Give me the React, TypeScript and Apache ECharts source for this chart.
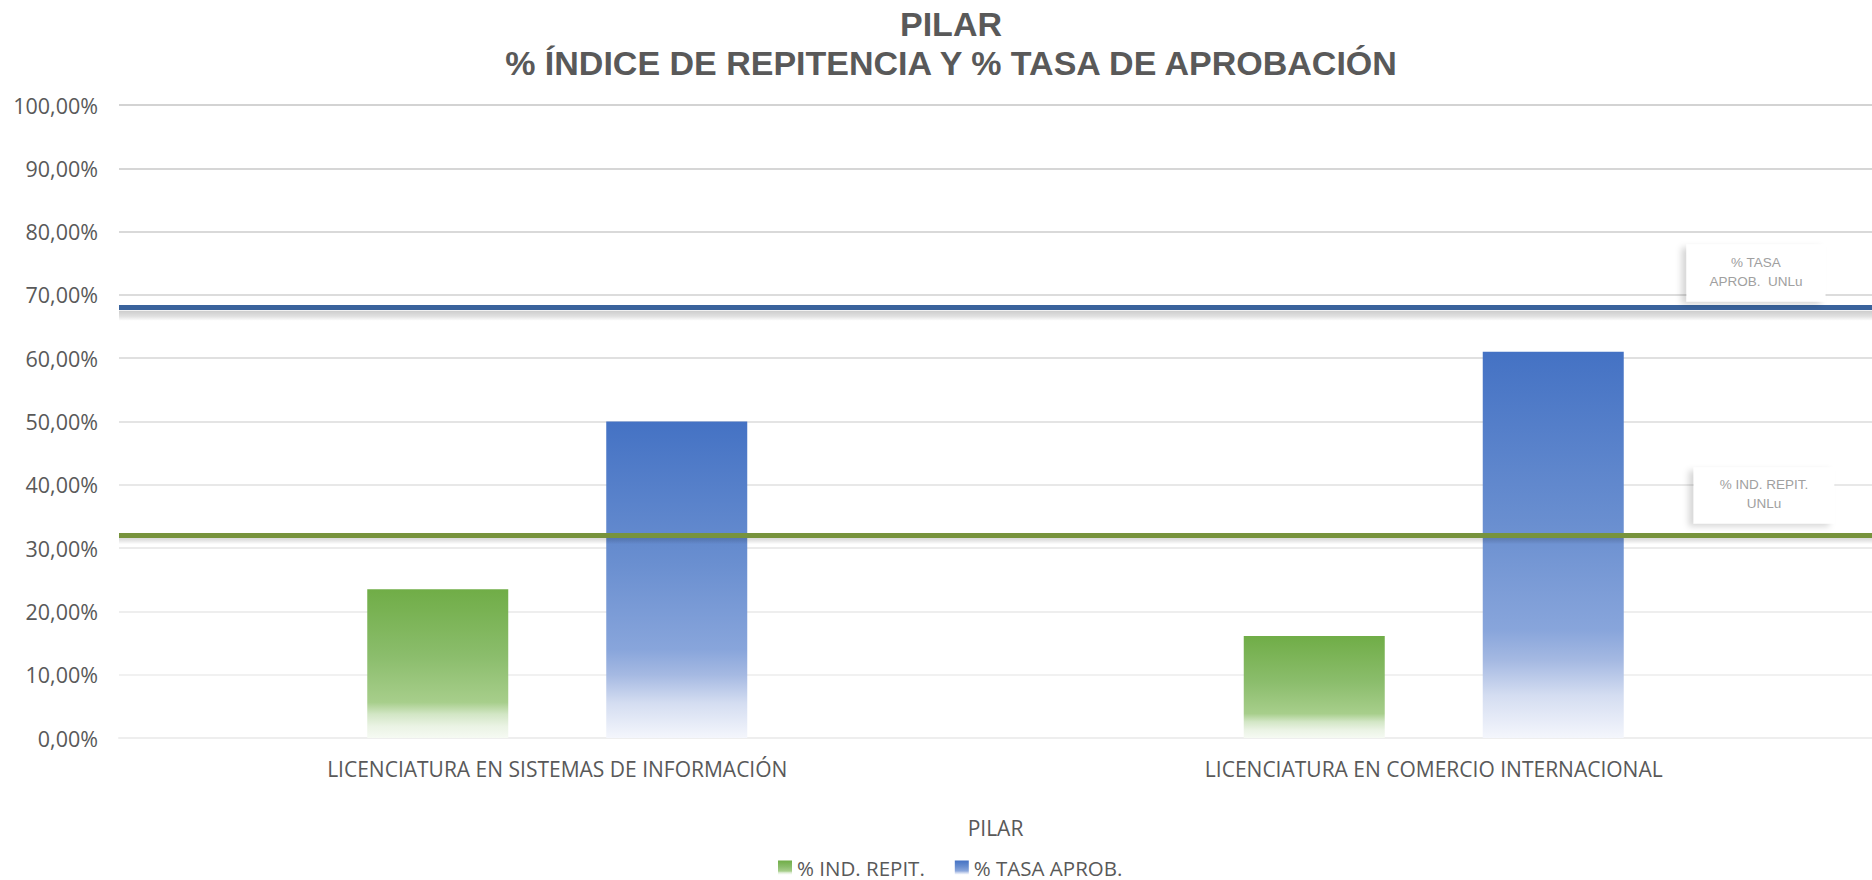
import React, { useEffect, useRef } from "react";
import * as echarts from "echarts";

const categories = [
  "LICENCIATURA EN SISTEMAS DE INFORMACIÓN",
  "LICENCIATURA EN COMERCIO INTERNACIONAL",
];
const repitValues = [0.235, 0.161];
const tasaValues = [0.5, 0.61];
const refTasaUNLu = 0.675;
const refRepitUNLu = 0.322;
const yTicks = [0, 0.1, 0.2, 0.3, 0.4, 0.5, 0.6, 0.7, 0.8, 0.9, 1];
const seriesNames = ["% IND. REPIT.", "% TASA APROB."];
const refLabels = ["% IND. REPIT.\nUNLu", "% TASA\nAPROB.  UNLu"];
const titleText = "PILAR\n% ÍNDICE DE REPITENCIA Y % TASA DE APROBACIÓN";
const axisName = "PILAR";

const FONT = "'Open Sans', 'Noto Sans', sans-serif";
const ARIAL = "'Liberation Sans', Arial, sans-serif";
const GRAY = "#595959";
const SHADOW_DEPTH = 0.016;

const greenGrad = new echarts.graphic.LinearGradient(0, 0, 0, 1, [
  { offset: 0, color: "#70AD47" },
  { offset: 0.45, color: "#8BBD6C" },
  { offset: 0.76, color: "#A7CE8B" },
  { offset: 0.84, color: "#D2E6C5" },
  { offset: 0.92, color: "#EAF3E4" },
  { offset: 1, color: "#F6FAF3" },
]);
const blueGrad = new echarts.graphic.LinearGradient(0, 0, 0, 1, [
  { offset: 0, color: "#4472C4" },
  { offset: 0.45, color: "#6A8FD0" },
  { offset: 0.72, color: "#88A5DB" },
  { offset: 0.8, color: "#A5B9E2" },
  { offset: 0.89, color: "#D4DDF1" },
  { offset: 1, color: "#F4F6FC" },
]);
const shadowGrad = () =>
  new echarts.graphic.LinearGradient(0, 0, 0, 1, [
    { offset: 0, color: "rgba(0,0,0,0.2)" },
    { offset: 0.55, color: "rgba(0,0,0,0.12)" },
    { offset: 1, color: "rgba(0,0,0,0)" },
  ]);

export default function App() {
  const ref = useRef<HTMLDivElement>(null);
  useEffect(() => {
    if (!ref.current) return;
    const chart = echarts.init(ref.current, null, { renderer: "svg" });
    const labelBox = {
      show: true,
      position: "insideEndTop",
      color: "#A0A0A0",
      fontFamily: ARIAL,
      fontSize: 13.5,
      align: "center",
      backgroundColor: "#ffffff",
      shadowColor: "rgba(0,0,0,0.16)",
      shadowBlur: 6,
      shadowOffsetX: -5,
      shadowOffsetY: 3,
    };
    const mkShadowArea = (v: number) => ({
      silent: true,
      z: 3,
      itemStyle: { color: shadowGrad() },
      data: [[{ yAxis: v }, { yAxis: v - SHADOW_DEPTH }]],
    });
    chart.setOption({
      animation: false,
      backgroundColor: "#ffffff",
      title: {
        text: titleText,
        left: 946,
        top: 0,
        textAlign: "center",
        textStyle: {
          fontFamily: ARIAL,
          fontWeight: "bold",
          fontSize: 34,
          lineHeight: 38.5,
          color: GRAY,
        },
      },
      grid: { left: 119, right: 0, top: 105, bottom: 142, containLabel: false },
      legend: {
        left: 773,
        top: 852,
        itemWidth: 14,
        itemHeight: 14,
        itemGap: 30,
        icon: "rect",
        textStyle: { fontFamily: FONT, fontSize: 20.5, lineHeight: 20, color: GRAY },
        data: seriesNames,
      },
      xAxis: {
        type: "category",
        data: categories,
        name: axisName,
        nameLocation: "middle",
        nameGap: 79,
        nameTextStyle: { fontFamily: FONT, fontSize: 21, color: GRAY },
        axisLine: { show: true, lineStyle: { color: "#EEEEEE", width: 2 } },
        axisTick: { show: false },
        axisLabel: { fontFamily: FONT, fontSize: 21, color: GRAY, margin: 20 },
      },
      yAxis: {
        type: "value",
        min: yTicks[0],
        max: yTicks[yTicks.length - 1],
        interval: 0.1,
        axisLine: { show: false },
        axisTick: { show: false },
        axisLabel: {
          fontFamily: FONT,
          fontSize: 21.5,
          color: GRAY,
          margin: 21,
          formatter: (v: number) => (v * 100).toFixed(2).replace(".", ",") + "%",
        },
        splitLine: {
          show: true,
          lineStyle: {
            width: 1.5,
            color: [
              "#EEEEEE",
              "#ECECEC",
              "#E9E9E9",
              "#E5E5E5",
              "#E0E0E0",
              "#DBDBDB",
              "#D6D6D6",
              "#D1D1D1",
              "#CDCDCD",
              "#C9C9C9",
              "#C5C5C5",
            ],
          },
        },
      },
      series: [
        {
          name: seriesNames[0],
          type: "bar",
          data: repitValues,
          barWidth: 141,
          barGap: "69.5%",
          itemStyle: { color: greenGrad },
          emphasis: { disabled: true },
          markArea: mkShadowArea(refRepitUNLu),
          markLine: {
            silent: true,
            symbol: "none",
            z: 6,
            lineStyle: { color: "#77933C", width: 5, type: "solid" },
            label: {
              ...labelBox,
              formatter: refLabels[0],
              lineHeight: 19,
              padding: [8, 26, 10, 26],
              distance: [108, 12],
            },
            data: [{ yAxis: refRepitUNLu }],
          },
        },
        {
          name: seriesNames[1],
          type: "bar",
          data: tasaValues,
          barWidth: 141,
          barGap: "69.5%",
          itemStyle: { color: blueGrad },
          emphasis: { disabled: true },
          markArea: mkShadowArea(refTasaUNLu),
          markLine: {
            silent: true,
            symbol: "none",
            z: 6,
            lineStyle: { color: "#3A639C", width: 5, type: "solid" },
            label: {
              ...labelBox,
              formatter: refLabels[1],
              lineHeight: 18.5,
              padding: [9, 23, 11, 23],
              distance: [116, 6],
            },
            data: [{ yAxis: refTasaUNLu }],
          },
        },
      ],
    });
    return () => chart.dispose();
  }, []);
  return (
    <div
      ref={ref}
      style={{ position: "fixed", left: 0, top: 0, width: 1872, height: 880 }}
    />
  );
}
